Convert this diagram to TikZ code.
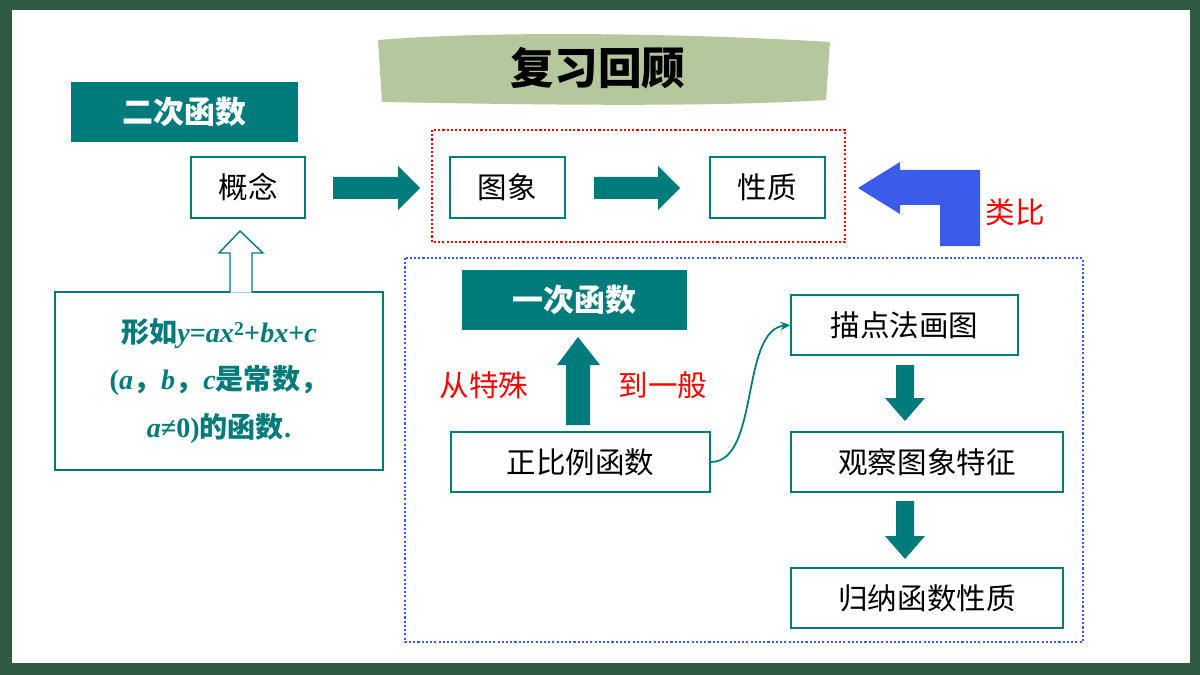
\documentclass[tikz,border=0pt]{standalone}
\usepackage{fontspec}
\usetikzlibrary{arrows.meta}
\setmainfont{Liberation Serif}
\newfontfamily\cjk{Noto Sans CJK SC}
\begin{document}
\definecolor{teal1}{HTML}{007B7B}
\definecolor{frame}{HTML}{2F5A44}
\definecolor{brush}{HTML}{B5C79C}
\definecolor{blu}{HTML}{3B5BEB}
\begin{tikzpicture}[x=0.05cm,y=-0.05cm,
 box/.style={draw=teal1,line width=2pt,fill=white,inner sep=0pt,font=\cjk\fontsize{42}{42}\selectfont},
 tbox/.style={fill=teal1,inner sep=0pt,text=white,font=\cjk\bfseries\fontsize{44}{44}\selectfont},
 tarr/.style={fill=teal1,draw=none},
 rtxt/.style={text=red,font=\cjk\fontsize{42}{42}\selectfont}]
\fill[frame] (0,0) rectangle (1200,675);
\fill[white] (12,10) rectangle (1190,663);
\useasboundingbox (0,0) rectangle (1200,675);
% title
\fill[brush] (378,40) .. controls (500,30) and (700,34) .. (830,42) -- (826,100) .. controls (700,108) and (500,104) .. (382,102) -- cycle;
\node[font=\cjk\bfseries\fontsize{62}{62}\selectfont] (title) at (598,68) {复习回顾};
% left
\node[tbox,minimum width=227*0.05cm,minimum height=60*0.05cm] (erci) at (184.5,112) {二次函数};
\node[box,minimum width=114*0.05cm,minimum height=61*0.05cm] (gn) at (248,187.5) {概念};
\node[draw=teal1,line width=2pt,minimum width=328*0.05cm,minimum height=178*0.05cm,inner sep=0pt,text=teal1,align=center,font=\bfseries\fontsize{40}{68}\selectfont] (def) at (219,381)
{{\cjk 形如}\textit{y}=\textit{ax}\textsuperscript{2}+\textit{bx}+\textit{c}\\(\textit{a}{\cjk ，}\textit{b}{\cjk ，}\textit{c}{\cjk 是常数，}\\ \textit{a}≠0){\cjk 的函数}.};
\draw[teal1,line width=2pt,fill=white] (230,292.5) -- (230,253) -- (219,253) -- (240,231) -- (263,253) -- (252,253) -- (252,292.5);
\fill[tarr] (333,177) -- (398,177) -- (398,166) -- (420,188) -- (398,210) -- (398,199) -- (333,199) -- cycle;
% red dashed
\draw[draw=red,dashed,line width=1.5pt] (432,130) rectangle (845,242);
\node[box,minimum width=115*0.05cm,minimum height=61*0.05cm] (tx) at (507.5,187.5) {图象};
\node[box,minimum width=115*0.05cm,minimum height=61*0.05cm] (xz) at (767.5,187.5) {性质};
\fill[tarr] (594,177) -- (658,177) -- (658,166) -- (680,188) -- (658,210) -- (658,199) -- (594,199) -- cycle;
% blue L arrow
\fill[blu] (940,246) -- (940,205) -- (900,205) -- (900,214) -- (858,188) -- (900,162) -- (900,170) -- (980,170) -- (980,246) -- cycle;
\node[rtxt] (lb) at (1015,212) {类比};
% blue dashed
\draw[draw=blu,dashed,line width=1.5pt] (405,258) rectangle (1083,642);
\node[tbox,minimum width=225*0.05cm,minimum height=60*0.05cm] (yici) at (574.5,300) {一次函数};
\fill[tarr] (566,425) -- (566,365) -- (557,365) -- (578,337) -- (600,365) -- (590,365) -- (590,425) -- cycle;
\node[rtxt] (ts) at (484,385) {从特殊};
\node[rtxt] (yb) at (663,385) {到一般};
\node[box,minimum width=259*0.05cm,minimum height=60*0.05cm] (zb) at (580.5,462) {正比例函数};
\node[box,minimum width=227*0.05cm,minimum height=60*0.05cm] (md) at (904.5,325) {描点法画图};
\node[box,minimum width=272*0.05cm,minimum height=60*0.05cm] (gc) at (927,462) {观察图象特征};
\node[box,minimum width=272*0.05cm,minimum height=60*0.05cm] (gl) at (927,598) {归纳函数性质};
\draw[teal1,line width=2.5pt,-{Stealth[length=14pt,width=12pt]}] (zb.east) .. controls (760,462) and (740,330) .. (md.west);
\fill[tarr] (896,365) -- (914,365) -- (914,398) -- (925,398) -- (905,421) -- (885,398) -- (896,398) -- cycle;
\fill[tarr] (896,501) -- (914,501) -- (914,536) -- (925,536) -- (905,559) -- (885,536) -- (896,536) -- cycle;
\end{tikzpicture}
\end{document}
